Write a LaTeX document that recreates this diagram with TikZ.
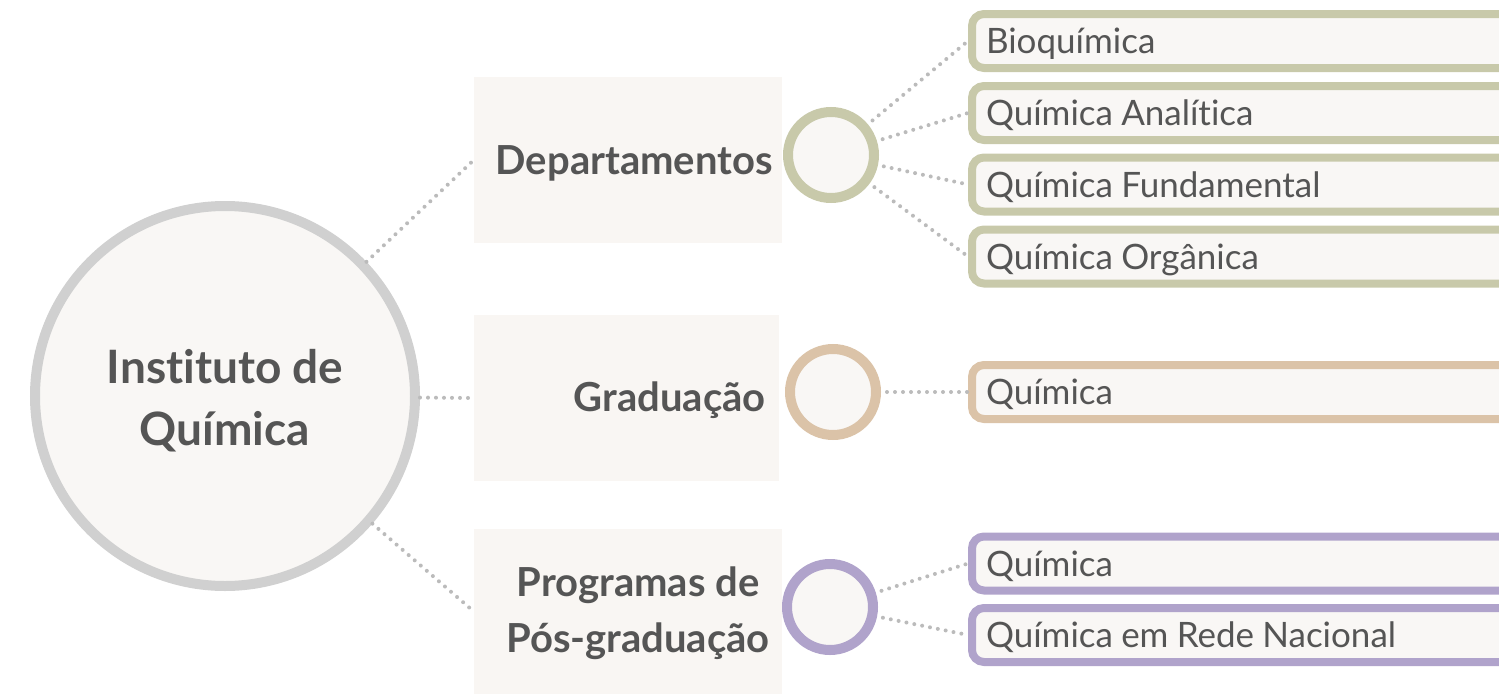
\documentclass[tikz,border=0pt]{standalone}
\usepackage{fontspec}
\setmainfont{Lato}[Ligatures=NoCommon]
\usetikzlibrary{positioning}
\definecolor{inkgrey}{HTML}{555555}
\definecolor{rootline}{HTML}{D0D0D0}
\definecolor{paper}{HTML}{F9F7F5}
\definecolor{panel}{HTML}{F9F6F3}
\definecolor{deptcol}{HTML}{C8C9AA}
\definecolor{gradcol}{HTML}{DBC3A8}
\definecolor{poscol}{HTML}{B0A3CB}
\definecolor{dotcol}{HTML}{BBBBBB}
\tikzset{%
    rootnode/.style={circle, draw=rootline, line width=10pt, fill=paper,
        minimum size=380pt, inner sep=0pt},
    roottext/.style={align=center, text=inkgrey, inner sep=0pt,
        font=\bfseries\fontsize{46}{62}\selectfont},
    panelbox/.style={fill=panel, inner sep=0pt},
    paneltext/.style={text=inkgrey, align=center, inner sep=0pt,
        font=\bfseries\fontsize{40}{56}\selectfont},
    hub/.style={circle, draw=#1, line width=10pt, fill=paper,
        minimum size=86pt, inner sep=0pt},
    leaf/.style={draw=#1, line width=8pt, fill=paper, rounded corners=12pt,
        text width=520pt, align=left, inner xsep=14pt, inner ysep=0pt,
        text height=31pt, text depth=6pt, minimum height=54pt,
        anchor=west, text=inkgrey, font=\fontsize{35}{42}\selectfont,
        execute at begin node={\spaceskip=0.235em\relax}},
    link/.style={dotcol, line width=4pt, line cap=round, dash pattern=on 0pt off 8pt}
}

\begin{document}
\begin{tikzpicture}[x=1pt, y=-1pt]
        \useasboundingbox (0,0) rectangle (1499,696);
        \clip (0,0) rectangle (1499,696);

        \node[rootnode] (root) at (225,396) {};
        \node[roottext] (rootlabel) at (225,401) {Instituto de\\Química};

        % panels in the middle column
        \node[panelbox, minimum width=308pt, minimum height=166pt] (dept) at (628,160) {};
        \node[panelbox, minimum width=305pt, minimum height=166pt] (grad) at (626.5,398) {};
        \node[panelbox, minimum width=308pt, minimum height=165pt] (pos) at (628,611.5) {};
        \node[paneltext, anchor=east] (deptlabel) at (773,163) {Departamentos};
        \node[paneltext, anchor=east] (gradlabel) at (766,400) {Graduação};
        \node[paneltext] (poslabel) at (638,613) {Programas de\\Pós-graduação};

        \node[hub=deptcol] (depthub) at (831,155) {};
        \node[hub=gradcol] (gradhub) at (833,392) {};
        \node[hub=poscol] (poshub) at (830,607) {};

        % leaves
        \foreach \name/\y/\txt in {bio/41/Bioquímica, ana/113/Química Analítica,
                fund/184.5/Química Fundamental, org/256.5/Química Orgânica}
            \node[leaf=deptcol] (\name) at (968,\y) {\txt};
        \node[leaf=gradcol] (gradq) at (968,392) {Química};
        \node[leaf=poscol] (posq) at (968,563.5) {Química};
        \node[leaf=poscol] (posrede) at (968,635) {Química em Rede Nacional};

        \draw[link] (root) -- (dept.west);
        \draw[link] (root) -- (grad.west);
        \draw[link] (root) -- (pos.west);
        \foreach \leafname in {bio,ana,fund,org}
            \draw[link, shorten <=6pt] (depthub) -- (\leafname.west);
        \draw[link, shorten <=6pt] (gradhub) -- (gradq.west);
        \draw[link, shorten <=6pt] (poshub) -- (posq.west);
        \draw[link, shorten <=6pt] (poshub) -- (posrede.west);
    \end{tikzpicture}
\end{document}
